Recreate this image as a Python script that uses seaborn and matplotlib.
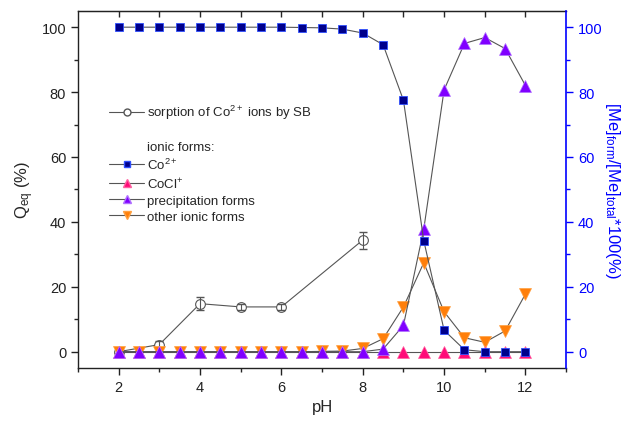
import matplotlib
matplotlib.use("Agg")
import matplotlib.pyplot as plt
from matplotlib.lines import Line2D
from matplotlib.ticker import MultipleLocator
import seaborn as sns
import pandas as pd

# pH grid for the ionic form distribution
ph = [2, 2.5, 3, 3.5, 4, 4.5, 5, 5.5, 6, 6.5, 7, 7.5, 8, 8.5, 9, 9.5, 10, 10.5, 11, 11.5, 12]
co2 = [100, 100, 100, 100, 100, 100, 100, 100, 100, 99.9, 99.8, 99.4, 98.2, 94.6, 77.5, 34.2, 6.6, 0.6, 0, 0, 0]
cocl = [0] * 21
precip = [0, 0, 0, 0, 0, 0, 0, 0, 0, 0, 0, 0, 0, 0.8, 8.1, 37.8, 80.7, 95, 96.8, 93.4, 82]
other = [0, 0, 0, 0, 0, 0, 0, 0, 0, 0, 0.1, 0.2, 1, 4, 13.8, 27.4, 12.3, 4.3, 2.9, 6.4, 17.8]

# sorption of Co2+ by SB
ph_sorp = [2, 3, 4, 5, 6, 8]
q_sorp = [0, 2.2, 14.8, 13.8, 13.8, 34.4]
q_err = [0.5, 1.2, 2.0, 0.8, 0.8, 2.6]

sns.set_style("ticks")
plt.rcParams["font.family"] = ["Liberation Sans", "DejaVu Sans"]
plt.rcParams["mathtext.fontset"] = "custom"
plt.rcParams["mathtext.rm"] = "Liberation Sans"
plt.rcParams["mathtext.it"] = "Liberation Sans:italic"

df = pd.DataFrame({"pH": ph, "co2": co2, "cocl": cocl, "precip": precip, "other": other})
sorp = pd.DataFrame({"pH": ph_sorp, "q": q_sorp})

fig = plt.figure(figsize=(6.34, 4.27), dpi=100)
ax = fig.add_axes([0.123, 0.136, 0.770, 0.836])

lc = "#555555"
navy = "#00008b"
pink = "#ff0a78"
purple = "#8000ff"
orange = "#ff7f0a"

sns.lineplot(data=sorp, x="pH", y="q", ax=ax, color=lc, lw=0.8, marker="o", ms=7,
             mfc="white", mec="#555555", mew=0.8, zorder=2)
ax.errorbar(ph_sorp, q_sorp, yerr=q_err, fmt="none", ecolor="#555555", elinewidth=0.8,
            capsize=3, zorder=2)

sns.lineplot(data=df, x="pH", y="other", ax=ax, color=lc, lw=0.8, marker="v", ms=8,
             mfc=orange, mec="#ffa040", mew=0.5, zorder=3)
sns.lineplot(data=df, x="pH", y="cocl", ax=ax, color=lc, lw=0.8, marker="^", ms=8,
             mfc=pink, mec="#ff60a0", mew=0.5, zorder=3)
sns.lineplot(data=df, x="pH", y="precip", ax=ax, color=lc, lw=0.8, marker="^", ms=8,
             mfc=purple, mec="#b070ff", mew=0.5, zorder=4)
sns.lineplot(data=df, x="pH", y="co2", ax=ax, color=lc, lw=0.8, marker="s", ms=6,
             mfc=navy, mec="#3050ff", mew=0.6, zorder=5)

ax.set_xlim(1, 13)
ax.set_ylim(-5, 105)
ax.xaxis.set_major_locator(MultipleLocator(2))
ax.xaxis.set_minor_locator(MultipleLocator(1))
ax.yaxis.set_major_locator(MultipleLocator(20))
ax.yaxis.set_minor_locator(MultipleLocator(10))
ax.tick_params(which="major", direction="out", length=5, width=1, labelsize=10.5, colors="#222222")
ax.tick_params(which="minor", direction="out", length=3, width=1)
ax.set_xlabel("pH", fontsize=12)
ax.set_ylabel(r"Q$_{\rm eq}$ (%)", fontsize=12)
for s in ["left", "bottom", "top"]:
    ax.spines[s].set_linewidth(1)
    ax.spines[s].set_color("#222222")
ax.spines["right"].set_visible(False)

top = ax.secondary_xaxis("top")
top.set_xticks(range(2, 13))
top.set_xticklabels([])
top.tick_params(direction="in", length=4, width=1)

ax2 = ax.twinx()
ax2.set_ylim(-5, 105)
ax2.yaxis.set_major_locator(MultipleLocator(20))
ax2.yaxis.set_minor_locator(MultipleLocator(10))
ax2.tick_params(which="major", direction="out", length=5, width=1, colors="blue", labelsize=10.5)
ax2.tick_params(which="minor", direction="out", length=3, width=1, colors="blue")
ax2.spines["right"].set_color("blue")
ax2.spines["right"].set_linewidth(1.2)
ax2.spines["left"].set_visible(False)
ax2.spines["top"].set_visible(False)
ax2.spines["bottom"].set_visible(False)
ax2.set_ylabel(r"[Me]$_{\rm form}$/[Me]$_{\rm total}$*100(%)", color="blue", fontsize=12,
               rotation=270, labelpad=14)

handles = [
    Line2D([], [], color=lc, lw=0.8, marker="o", ms=5, mfc="white", mec="#555555"),
    Line2D([], [], color="none"),
    Line2D([], [], color="none"),
    Line2D([], [], color=lc, lw=0.8, marker="s", ms=5, mfc=navy, mec="#3050ff"),
    Line2D([], [], color=lc, lw=0.8, marker="^", ms=6, mfc=pink, mec="#ff60a0"),
    Line2D([], [], color=lc, lw=0.8, marker="^", ms=6, mfc=purple, mec="#b070ff"),
    Line2D([], [], color=lc, lw=0.8, marker="v", ms=6, mfc=orange, mec="#ffa040"),
]
labels = [r"sorption of Co$^{2+}$ ions by SB", "", "ionic forms:", r"Co$^{2+}$",
          r"CoCl$^{+}$", "precipitation forms", "other ionic forms"]
ax.legend(handles, labels, loc="upper left", bbox_to_anchor=(0.04, 0.775), frameon=False,
          fontsize=9.5, handlelength=2.6, handletextpad=0.25, labelspacing=0.28)

plt.savefig("out.png", dpi=100)
